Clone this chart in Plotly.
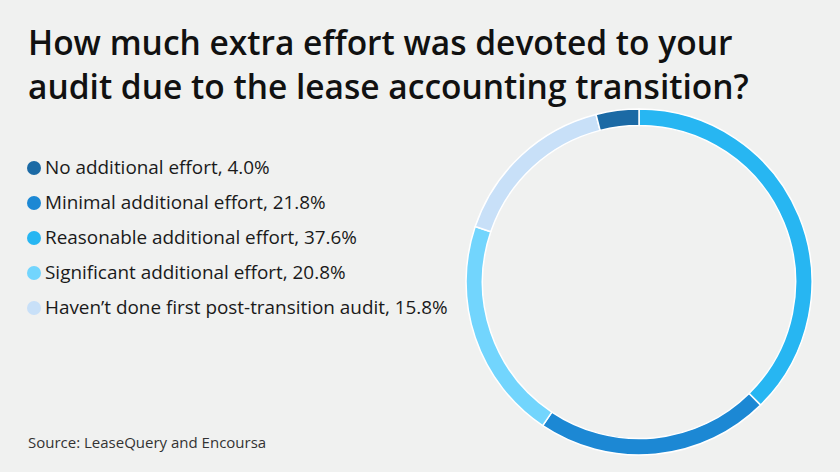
import plotly.graph_objects as go

# legend order (as listed on the left)
labels = ["No additional effort", "Minimal additional effort", "Reasonable additional effort",
          "Significant additional effort", "Haven’t done first post-transition audit"]
values = [4.0, 21.8, 37.6, 20.8, 15.8]
colors = ["#1b6aa5", "#1c88d4", "#27b6f2", "#72d5fd", "#c8e0f8"]

# ring order, clockwise from 12 o'clock
ring_order = [2, 1, 3, 4, 0]

title = "How much extra effort was devoted to your<br>audit due to the lease accounting transition?"
source = "Source: LeaseQuery and Encoursa"

bg = "#f0f1f0"
font = "Open Sans"
W, H = 840, 472

pie = go.Pie(
    labels=[labels[i] for i in ring_order],
    values=[values[i] for i in ring_order],
    marker=dict(colors=[colors[i] for i in ring_order], line=dict(color="#ffffff", width=1.5)),
    hole=0.905,
    sort=False,
    direction="clockwise",
    rotation=0,
    textinfo="none",
    hoverinfo="label+percent",
    showlegend=False,
    domain=dict(x=[0.5548, 0.9667], y=[0.036, 0.769]),
)

fig = go.Figure(data=[pie])

annotations = [dict(
    text=title, x=26 / W, y=1 - 64 / H, align="left",
    xref="paper", yref="paper", xanchor="left", yanchor="middle", showarrow=False,
    font=dict(family=font, size=33.5, weight=600, color="#111111"),
)]
shapes = []

# legend rows: dot + label
for i, (lab, val, col) in enumerate(zip(labels, values, colors)):
    yc = 167 + 35 * i
    annotations.append(dict(
        text="%s, %.1f%%" % (lab, val),
        x=43 / W, y=1 - yc / H,
        xref="paper", yref="paper", xanchor="left", yanchor="middle",
        showarrow=False, font=dict(family=font, size=18.9, color="#1a1a1a"),
    ))
    shapes.append(dict(
        type="circle", xref="paper", yref="paper",
        x0=27 / W, x1=41 / W, y0=1 - (yc - 6) / H, y1=1 - (yc + 8) / H,
        fillcolor=col, line=dict(width=0),
    ))

annotations.append(dict(
    text=source,
    x=26 / W, y=1 - 442 / H, xref="paper", yref="paper",
    xanchor="left", yanchor="middle", showarrow=False,
    font=dict(family=font, size=15, color="#333333"),
))

fig.update_layout(
    width=W, height=H,
    margin=dict(l=0, r=0, t=0, b=0),
    paper_bgcolor=bg, plot_bgcolor=bg,
    annotations=annotations,
    shapes=shapes,
)

fig.write_html("out.html", config={"displayModeBar": False},
               post_script="document.body.style.margin='0';")
